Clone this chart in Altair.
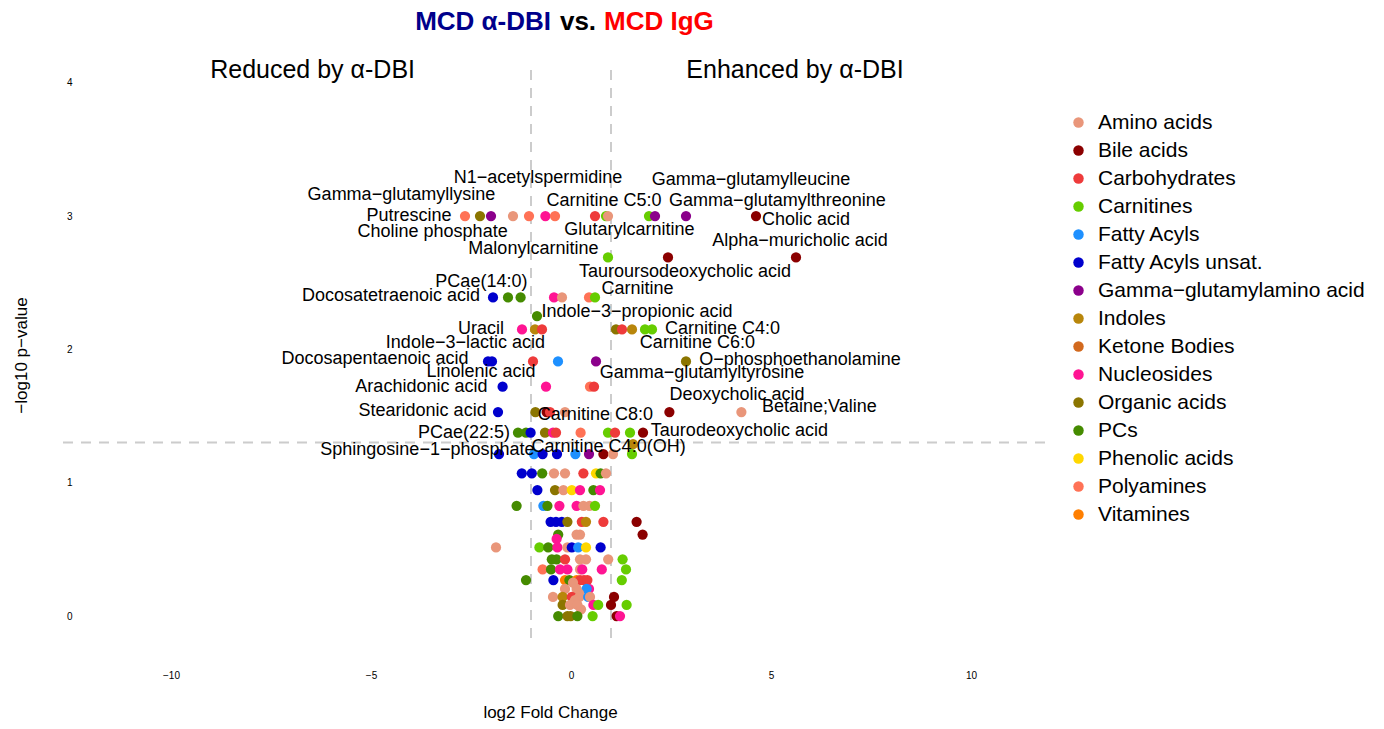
import altair as alt
import pandas as pd

# ---------------- data ----------------
class_names = {
    "AA": "Amino acids", "BA": "Bile acids", "CH": "Carbohydrates", "CA": "Carnitines",
    "FA": "Fatty Acyls", "FU": "Fatty Acyls unsat.", "GG": "Gamma−glutamylamino acid",
    "IN": "Indoles", "KB": "Ketone Bodies", "NU": "Nucleosides", "OA": "Organic acids",
    "PC": "PCs", "PH": "Phenolic acids", "PA": "Polyamines", "VI": "Vitamines",
}
class_order = ["AA", "BA", "CH", "CA", "FA", "FU", "GG", "IN", "KB", "NU", "OA", "PC", "PH", "PA", "VI"]
class_colors = ["#E9967A", "#8B0000", "#EE3B3B", "#66CD00", "#1E90FF", "#0000CD", "#8B008B",
                "#B8860B", "#D2691E", "#FF1493", "#8B7500", "#458B00", "#FFD700", "#FF7256", "#FF7F00"]

# log2 fold change, -log10 p-value, class code
log2fc = [
    -2.65, -2.275, -2.0, -1.45, -1.05, -0.64, -0.40, 0.60, 0.875, 0.925, 1.95, 2.10, 2.875, 4.625,
    0.925, 2.425, 5.625,
    -1.95, -1.575, -1.26, -0.425, -0.225, 0.45, 0.60,
    -0.85,
    -1.225, -0.9, -0.725, 1.125, 1.275, 1.525, 1.85, 2.025,
    -2.075, -1.975, -0.95, -0.325, 0.625, 2.875,
    -1.71, -0.625, 0.475, 0.575,
    -1.825, -0.89, -0.61, -0.525, -0.15, 2.46, 4.26,
    -1.325, -1.125, -1.01, -0.65, -0.45, -0.375, 0.24, 0.925, 1.10, 1.475, 1.80, 1.55,
    -1.80, -0.925, -0.71, -0.35, 0.11, 0.45, 0.81, 1.05, 1.525,
    -1.23, -0.98, -0.72, -0.425, -0.15, 0.31, 0.625, 0.74, 0.875,
    -0.84, -0.40, -0.19, 0.02, 0.225, 0.56, 0.725,
    -1.36, -0.69, -0.59, -0.29, 0.14, 0.31, 0.46, 0.60,
    -0.51, -0.375, -0.23, -0.09, 0.27, 0.375, 0.81, 1.64,
    -0.32, 0.14, 0.225, 1.79, -0.36,
    -1.875, -0.79, -0.57, -0.34, -0.09, 0.02, 0.18, 0.375, 0.74,
    -0.48, -0.36, -0.15, 0.225, 0.375, 0.93, 1.29,
    -0.71, -0.50, -0.275, -0.09, 0.225, 0.28, 0.77, 1.375,
    -1.125, -0.44, -0.15, -0.04, 0.14, 0.225, 0.325, 0.41, 1.27,
    -0.15, 0.14, 0.45, 0.39, 0.05, 0.20,
    -0.45, -0.21, 0.02, 0.21, 0.43, 0.475, 1.075, 0.10,
    -0.21, -0.025, 0.16, 0.56, 0.68, 1.0, 1.39, 0.25,
    -0.32, -0.09, -0.01, 0.16, 0.54, 1.14, 1.225,
]
neglog10p = [
    3.0, 3.0, 3.0, 3.0, 3.0, 3.0, 3.0, 3.0, 3.0, 3.0, 3.0, 3.0, 3.0, 3.0,
    2.69, 2.69, 2.69,
    2.39, 2.39, 2.39, 2.39, 2.39, 2.39, 2.39,
    2.25,
    2.15, 2.15, 2.15, 2.15, 2.15, 2.15, 2.15, 2.15,
    1.91, 1.91, 1.91, 1.91, 1.91, 1.91,
    1.72, 1.72, 1.72, 1.72,
    1.53, 1.53, 1.53, 1.53, 1.53, 1.53, 1.53,
    1.375, 1.375, 1.375, 1.375, 1.375, 1.375, 1.375, 1.375, 1.375, 1.375, 1.375, 1.29,
    1.215, 1.215, 1.215, 1.215, 1.215, 1.215, 1.215, 1.215, 1.215,
    1.07, 1.07, 1.07, 1.07, 1.07, 1.07, 1.07, 1.07, 1.07,
    0.945, 0.945, 0.945, 0.945, 0.945, 0.945, 0.945,
    0.827, 0.827, 0.827, 0.827, 0.827, 0.827, 0.827, 0.827,
    0.707, 0.707, 0.707, 0.707, 0.707, 0.707, 0.707, 0.707,
    0.611, 0.611, 0.611, 0.611, 0.578,
    0.514, 0.514, 0.514, 0.514, 0.514, 0.514, 0.514, 0.514, 0.514,
    0.425, 0.425, 0.425, 0.425, 0.425, 0.425, 0.425,
    0.349, 0.349, 0.349, 0.349, 0.349, 0.349, 0.349, 0.349,
    0.27, 0.27, 0.27, 0.27, 0.27, 0.27, 0.27, 0.27, 0.27,
    0.203, 0.203, 0.203, 0.203, 0.25, 0.17,
    0.143, 0.143, 0.143, 0.143, 0.143, 0.143, 0.143, 0.12,
    0.083, 0.083, 0.083, 0.083, 0.083, 0.083, 0.083, 0.05,
    0.0, 0.0, 0.0, 0.0, 0.0, 0.0, 0.0,
]
cls = [
    "PA", "OA", "GG", "AA", "PA", "NU", "PA", "CH", "CA", "AA", "CA", "GG", "GG", "BA",
    "CA", "BA", "BA",
    "FU", "PC", "PC", "NU", "AA", "PA", "CA",
    "PC",
    "NU", "IN", "CH", "OA", "CH", "IN", "CA", "CA",
    "FU", "FU", "CH", "FA", "GG", "OA",
    "FU", "NU", "PA", "CH",
    "FU", "OA", "BA", "CH", "AA", "BA", "AA",
    "PC", "PC", "FU", "OA", "NU", "CH", "PA", "CA", "CH", "CA", "BA", "IN",
    "FU", "FA", "FU", "FU", "FA", "GG", "BA", "AA", "CA",
    "FU", "FU", "PC", "AA", "AA", "CH", "PH", "PC", "AA",
    "FU", "OA", "AA", "PH", "NU", "PC", "NU",
    "PC", "FA", "PC", "NU", "NU", "AA", "AA", "CA",
    "FU", "FU", "FU", "OA", "CH", "IN", "CH", "BA",
    "PC", "AA", "AA", "BA", "NU",
    "AA", "CA", "PC", "NU", "AA", "FU", "FA", "PH", "FU",
    "PC", "PC", "CH", "AA", "AA", "AA", "CA",
    "PA", "PC", "NU", "NU", "AA", "NU", "NU", "CA",
    "PC", "FU", "VI", "PC", "VI", "CH", "CH", "CH", "CA",
    "AA", "AA", "NU", "FA", "AA", "AA",
    "AA", "IN", "CH", "AA", "FA", "AA", "BA", "AA",
    "OA", "AA", "AA", "NU", "CA", "BA", "CA", "AA",
    "PC", "OA", "OA", "PC", "CA", "BA", "NU",
]

label_text = [
    "N1−acetylspermidine", "Gamma−glutamyllysine", "Carnitine C5:0", "Gamma−glutamylleucine",
    "Gamma−glutamylthreonine", "Putrescine", "Choline phosphate", "Cholic acid",
    "Glutarylcarnitine", "Alpha−muricholic acid", "Malonylcarnitine", "Tauroursodeoxycholic acid",
    "PCae(14:0)", "Carnitine", "Docosatetraenoic acid", "Indole−3−propionic acid", "Uracil",
    "Carnitine C4:0", "Indole−3−lactic acid", "Carnitine C6:0", "Docosapentaenoic acid",
    "O−phosphoethanolamine", "Linolenic acid", "Gamma−glutamyltyrosine", "Arachidonic acid",
    "Deoxycholic acid", "Betaine;Valine", "Stearidonic acid", "Carnitine C8:0",
    "Taurodeoxycholic acid", "PCae(22:5)", "Sphingosine−1−phosphate", "Carnitine C4:0(OH)",
]
label_x = [-0.825, -4.24, 0.825, 4.5, 5.16, -4.05, -3.46, 5.875, 1.46, 5.725, -0.94, 2.85,
           -2.24, 1.66, -4.5, 1.65, -2.25, 3.79, -2.64, 3.16, -4.9, 5.725, -2.25, 3.275, -3.74,
           4.15, 6.21, -3.71, 0.61, 4.21, -2.675, -3.59, 0.94]
label_y = [3.286, 3.158, 3.113, 3.271, 3.113, 3.0, 2.881, 2.971, 2.896, 2.813, 2.753, 2.581,
           2.506, 2.453, 2.401, 2.281, 2.153, 2.153, 2.048, 2.048, 1.928, 1.920, 1.830, 1.823,
           1.718, 1.658, 1.568, 1.538, 1.508, 1.388, 1.373, 1.245, 1.268]

fc_cutoff = [-1, 1]
p_cutoff = [1.301]
x_ticks = [-10, -5, 0, 5, 10]
y_ticks = [0, 1, 2, 3, 4]

region_text = ["Reduced by α-DBI", "Enhanced by α-DBI"]
region_x = [-6.46, 5.6]
region_y = [4.096, 4.096]

title_parts = ["MCD α-DBI", "vs.", "MCD IgG"]
title_x = [-0.5, 0.175, 0.825]
title_y = [4.456, 4.456, 4.456]

# ---------------- chart ----------------
FONT = "Liberation Sans"
xs = alt.Scale(domain=[-12.9, 11.85], nice=False, zero=False)
ys = alt.Scale(domain=[-0.18, 4.096], nice=False, zero=False)

pts = pd.DataFrame({"fc": log2fc, "nlp": neglog10p,
                    "cls": [class_names[c] for c in cls]})
labs = pd.DataFrame({"text": label_text, "x": label_x, "y": label_y})
vl = pd.DataFrame({"x": fc_cutoff})
hl = pd.DataFrame({"y": p_cutoff})
reg = pd.DataFrame({"text": region_text, "x": region_x, "y": region_y})

x_axis = alt.Axis(values=x_ticks, format="d", title="log2 Fold Change", grid=False, domain=False,
                  ticks=False, tickSize=0, labelFontSize=10, labelPadding=30, labelColor="black",
                  titleFontSize=17, titleFontWeight="normal", titlePadding=24, titleColor="black",
                  labelFont=FONT, titleFont=FONT)
y_axis = alt.Axis(values=y_ticks, format="d", title="−log10 p−value", grid=False, domain=False,
                  ticks=False, tickSize=0, labelFontSize=10, labelPadding=1, offset=-18,
                  labelColor="black", titleFontSize=17, titleFontWeight="normal", titlePadding=36,
                  titleColor="black", labelFont=FONT, titleFont=FONT)

vrules = alt.Chart(vl).mark_rule(color="#cccccc", strokeDash=[10, 8], strokeWidth=2).encode(
    x=alt.X("x:Q", scale=xs, axis=x_axis)
)
hrules = alt.Chart(hl).mark_rule(color="#cccccc", strokeDash=[10, 8], strokeWidth=2).encode(
    y=alt.Y("y:Q", scale=ys, axis=y_axis)
)

points = alt.Chart(pts).mark_circle(size=105, opacity=1).encode(
    x=alt.X("fc:Q", scale=xs, axis=x_axis),
    y=alt.Y("nlp:Q", scale=ys, axis=y_axis),
    color=alt.Color("cls:N", title=None,
                    scale=alt.Scale(domain=[class_names[c] for c in class_order], range=class_colors),
                    legend=alt.Legend(orient="none", legendX=1013, legendY=42, padding=0,
                                      labelFontSize=21, labelFont=FONT, labelColor="black",
                                      labelLimit=400, symbolType="circle", symbolSize=110,
                                      symbolStrokeWidth=0, rowPadding=6, labelOffset=9)),
)

labels = alt.Chart(labs).mark_text(fontSize=18, font=FONT, color="black", align="center",
                                   baseline="middle").encode(
    x=alt.X("x:Q", scale=xs), y=alt.Y("y:Q", scale=ys), text="text:N"
)

regions = alt.Chart(reg).mark_text(fontSize=25, font=FONT, color="black", align="center",
                                   baseline="middle").encode(
    x=alt.X("x:Q", scale=xs), y=alt.Y("y:Q", scale=ys), text="text:N"
)

t_colors = ["#00008B", "black", "#FF0000"]
t_aligns = ["right", "center", "left"]
title_layers = []
for i in range(3):
    d = pd.DataFrame({"text": [title_parts[i]], "x": [title_x[i]], "y": [title_y[i]]})
    title_layers.append(
        alt.Chart(d).mark_text(fontSize=26, font=FONT, fontWeight="bold", color=t_colors[i],
                               align=t_aligns[i], baseline="middle").encode(
            x=alt.X("x:Q", scale=xs), y=alt.Y("y:Q", scale=ys), text="text:N"
        )
    )

chart = alt.layer(vrules, hrules, points, labels, regions, *title_layers).properties(
    width=990, height=570, autosize="none",
    padding={"left": 47, "top": 62, "right": 331, "bottom": 81},
).configure(font=FONT).configure_view(strokeWidth=0, stroke="transparent")

chart.save("out.html", embed_options={"renderer": "svg", "actions": False})
